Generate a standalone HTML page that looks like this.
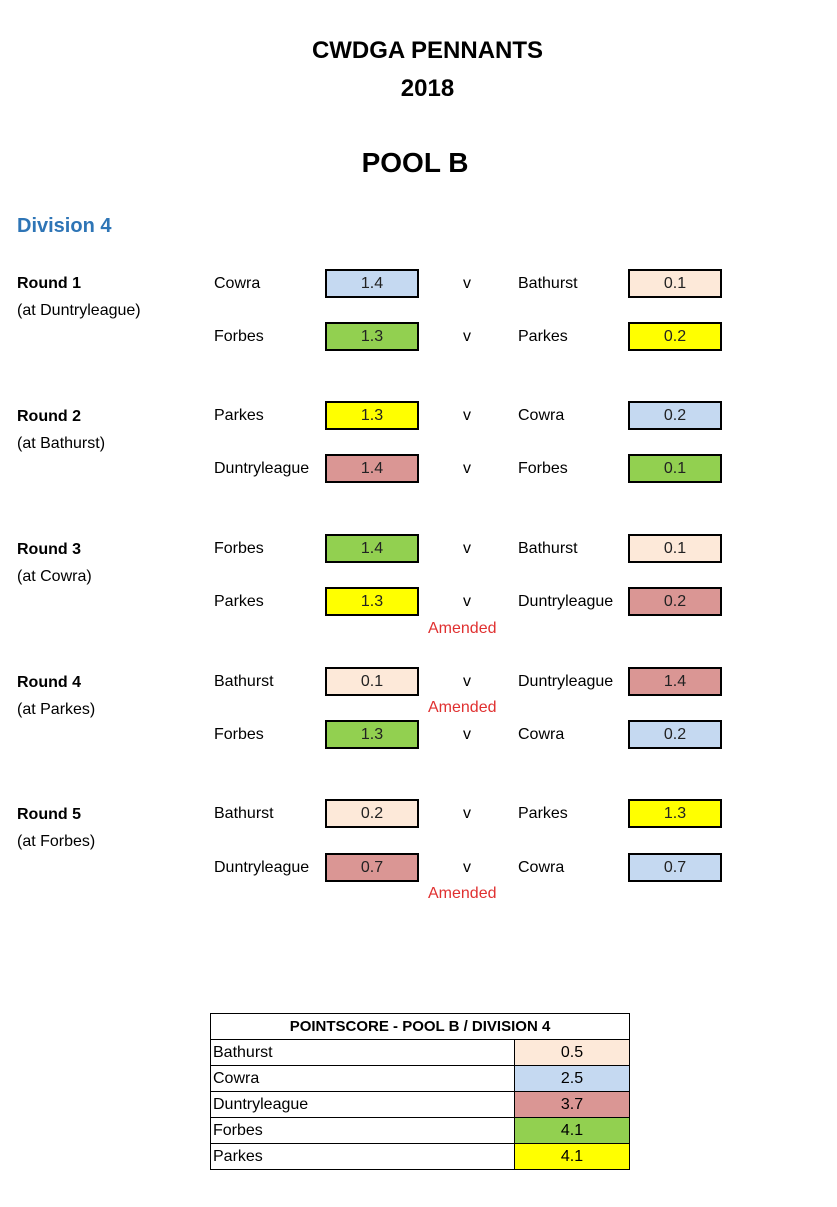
<!DOCTYPE html>
<html><head><style>
body{margin:0;width:837px;height:1207px;background:#fff;position:relative;font-family:"Liberation Sans",sans-serif;color:#000;overflow:hidden}
.a{position:absolute;white-space:nowrap}
.t{font-size:16px;line-height:20px;margin-top:1px}
.b{font-weight:bold}
.box{position:absolute;width:90px;height:25px;border:2px solid #000;text-align:center;font-size:16px;line-height:25px;color:#222}
.bl{background:#c5d9f1}.pe{background:#fde9d9}.gr{background:#92d050}.ye{background:#ffff00}.rd{background:#da9694}
.am{color:#e03030}
table{position:absolute;left:210px;top:1013px;border-collapse:collapse;width:420px}
td{border:1.5px solid #000;height:25px;padding:0 2px;font-size:16px;line-height:24px}
</style></head><body>
<div class="a b" style="left:0;width:855px;text-align:center;top:37px;font-size:24px">CWDGA PENNANTS</div>
<div class="a b" style="left:0;width:855px;text-align:center;top:75px;font-size:24px">2018</div>
<div class="a b" style="left:0;width:830px;text-align:center;top:147px;font-size:28px">POOL B</div>
<div class="a b" style="left:17px;top:215px;font-size:20px;color:#2e75b6">Division 4</div>

<div class="a t b" style="left:17px;top:273px">Round 1</div>
<div class="a t" style="left:17px;top:300px">(at Duntryleague)</div>
<div class="a t b" style="left:17px;top:406px">Round 2</div>
<div class="a t" style="left:17px;top:433px">(at Bathurst)</div>
<div class="a t b" style="left:17px;top:539px">Round 3</div>
<div class="a t" style="left:17px;top:566px">(at Cowra)</div>
<div class="a t b" style="left:17px;top:672px">Round 4</div>
<div class="a t" style="left:17px;top:699px">(at Parkes)</div>
<div class="a t b" style="left:17px;top:804px">Round 5</div>
<div class="a t" style="left:17px;top:831px">(at Forbes)</div>

<div class="a t" style="left:214px;top:273px">Cowra</div><div class="box bl" style="left:325px;top:269px">1.4</div>
<div class="a t" style="left:463px;top:273px">v</div>
<div class="a t" style="left:518px;top:273px">Bathurst</div><div class="box pe" style="left:628px;top:269px">0.1</div>
<div class="a t" style="left:214px;top:326px">Forbes</div><div class="box gr" style="left:325px;top:322px">1.3</div>
<div class="a t" style="left:463px;top:326px">v</div>
<div class="a t" style="left:518px;top:326px">Parkes</div><div class="box ye" style="left:628px;top:322px">0.2</div>

<div class="a t" style="left:214px;top:405px">Parkes</div><div class="box ye" style="left:325px;top:401px">1.3</div>
<div class="a t" style="left:463px;top:405px">v</div>
<div class="a t" style="left:518px;top:405px">Cowra</div><div class="box bl" style="left:628px;top:401px">0.2</div>
<div class="a t" style="left:214px;top:458px">Duntryleague</div><div class="box rd" style="left:325px;top:454px">1.4</div>
<div class="a t" style="left:463px;top:458px">v</div>
<div class="a t" style="left:518px;top:458px">Forbes</div><div class="box gr" style="left:628px;top:454px">0.1</div>

<div class="a t" style="left:214px;top:538px">Forbes</div><div class="box gr" style="left:325px;top:534px">1.4</div>
<div class="a t" style="left:463px;top:538px">v</div>
<div class="a t" style="left:518px;top:538px">Bathurst</div><div class="box pe" style="left:628px;top:534px">0.1</div>
<div class="a t" style="left:214px;top:591px">Parkes</div><div class="box ye" style="left:325px;top:587px">1.3</div>
<div class="a t" style="left:463px;top:591px">v</div>
<div class="a t" style="left:518px;top:591px">Duntryleague</div><div class="box rd" style="left:628px;top:587px">0.2</div>
<div class="a t am" style="left:428px;top:618px">Amended</div>

<div class="a t" style="left:214px;top:671px">Bathurst</div><div class="box pe" style="left:325px;top:667px">0.1</div>
<div class="a t" style="left:463px;top:671px">v</div>
<div class="a t" style="left:518px;top:671px">Duntryleague</div><div class="box rd" style="left:628px;top:667px">1.4</div>
<div class="a t am" style="left:428px;top:697px">Amended</div>
<div class="a t" style="left:214px;top:724px">Forbes</div><div class="box gr" style="left:325px;top:720px">1.3</div>
<div class="a t" style="left:463px;top:724px">v</div>
<div class="a t" style="left:518px;top:724px">Cowra</div><div class="box bl" style="left:628px;top:720px">0.2</div>

<div class="a t" style="left:214px;top:803px">Bathurst</div><div class="box pe" style="left:325px;top:799px">0.2</div>
<div class="a t" style="left:463px;top:803px">v</div>
<div class="a t" style="left:518px;top:803px">Parkes</div><div class="box ye" style="left:628px;top:799px">1.3</div>
<div class="a t" style="left:214px;top:857px">Duntryleague</div><div class="box rd" style="left:325px;top:853px">0.7</div>
<div class="a t" style="left:463px;top:857px">v</div>
<div class="a t" style="left:518px;top:857px">Cowra</div><div class="box bl" style="left:628px;top:853px">0.7</div>
<div class="a t am" style="left:428px;top:883px">Amended</div>

<table>
<tr><td colspan="2" style="text-align:center;font-weight:bold;font-size:15px">POINTSCORE - POOL B / DIVISION 4</td></tr>
<tr><td>Bathurst</td><td class="pe" style="width:110px;text-align:center">0.5</td></tr>
<tr><td>Cowra</td><td class="bl" style="text-align:center">2.5</td></tr>
<tr><td>Duntryleague</td><td class="rd" style="text-align:center">3.7</td></tr>
<tr><td>Forbes</td><td class="gr" style="text-align:center">4.1</td></tr>
<tr><td>Parkes</td><td class="ye" style="text-align:center">4.1</td></tr>
</table>
</body></html>
